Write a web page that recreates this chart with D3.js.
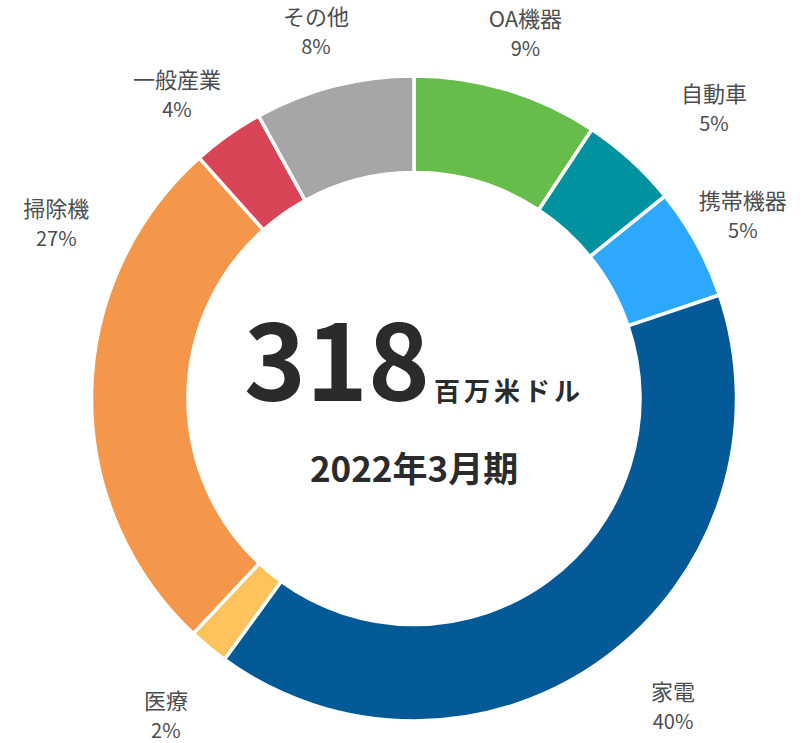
<!DOCTYPE html>
<html>
<head>
<meta charset="utf-8">
<script src="https://cdn.jsdelivr.net/npm/d3@7"></script>
<style>
  body { margin: 0; background: #fff; }
  svg { display: block; font-family: "Noto Sans CJK JP", "Noto Sans", sans-serif; }
</style>
</head>
<body>
<div id="wrapper"></div>
<script>
// Segment data, clockwise from 12 o'clock
const categories = ["OA機器", "自動車", "携帯機器", "家電", "医療", "掃除機", "一般産業", "その他"];
const shares = [9.3, 4.9, 5.6, 40.2, 2.0, 26.4, 3.6, 8.0];
const percentLabels = ["9%", "5%", "5%", "40%", "2%", "27%", "4%", "8%"];
const colors = ["#67bd4a", "#00939f", "#2ea8fc", "#035a96", "#fec35c", "#f5974a", "#d94557", "#a6a6a6"];

const totalValue = "318";
const totalUnit = "百万米ドル";
const periodLabel = "2022年3月期";

// label placement (angle in degrees clockwise from top, radius from centre)
const labelPolar = [[17, 381], [46, 417], [61, 376], [140, 403], [218, 403], [296, 398], [322, 385], [345, 379]];

const dimension = { width: 810, height: 743 };
const cx = 414, cy = 398.5;

const svg = d3.select("#wrapper")
  .append("svg")
  .attr("width", dimension.width)
  .attr("height", dimension.height);

const bounds = svg.append("g")
  .attr("transform", `translate(${cx},${cy})`);

const data = categories.map((c, i) => ({ name: c, value: shares[i], pct: percentLabels[i], color: colors[i] }));

const pie = d3.pie()
  .sort(null)
  .value(d => d.value);

const arc = d3.arc()
  .innerRadius(226)
  .outerRadius(322.5);

bounds.selectAll("path")
  .data(pie(data))
  .join("path")
  .attr("d", arc)
  .attr("fill", d => d.data.color)
  .attr("stroke", "#fff")
  .attr("stroke-width", 3.5);

// outside labels
const labels = bounds.selectAll("g.label")
  .data(data)
  .join("g")
  .attr("class", "label")
  .attr("transform", (d, i) => {
    const a = labelPolar[i][0] * Math.PI / 180;
    const r = labelPolar[i][1];
    return `translate(${r * Math.sin(a)},${-r * Math.cos(a)})`;
  });

labels.append("text")
  .attr("text-anchor", "middle")
  .attr("y", -7)
  .attr("fill", "#4d4d4d")
  .style("font-size", "22px")
  .text(d => d.name);

labels.append("text")
  .attr("text-anchor", "middle")
  .attr("y", 22)
  .attr("fill", "#4d4d4d")
  .style("font-size", "20px")
  .text(d => d.pct);

// centre text
const big = bounds.append("text")
  .attr("text-anchor", "middle")
  .attr("y", 2)
  .attr("fill", "#2b2b2b");
big.append("tspan")
  .style("font-size", "105px")
  .style("font-weight", "bold")
  .text(totalValue);
big.append("tspan")
  .attr("dx", 4)
  .style("font-size", "26px")
  .style("font-weight", "bold")
  .style("letter-spacing", "4px")
  .text(totalUnit);

bounds.append("text")
  .attr("text-anchor", "middle")
  .attr("y", 83)
  .attr("fill", "#2b2b2b")
  .style("font-size", "35px")
  .style("font-weight", "bold")
  .text(periodLabel);
</script>
</body>
</html>
